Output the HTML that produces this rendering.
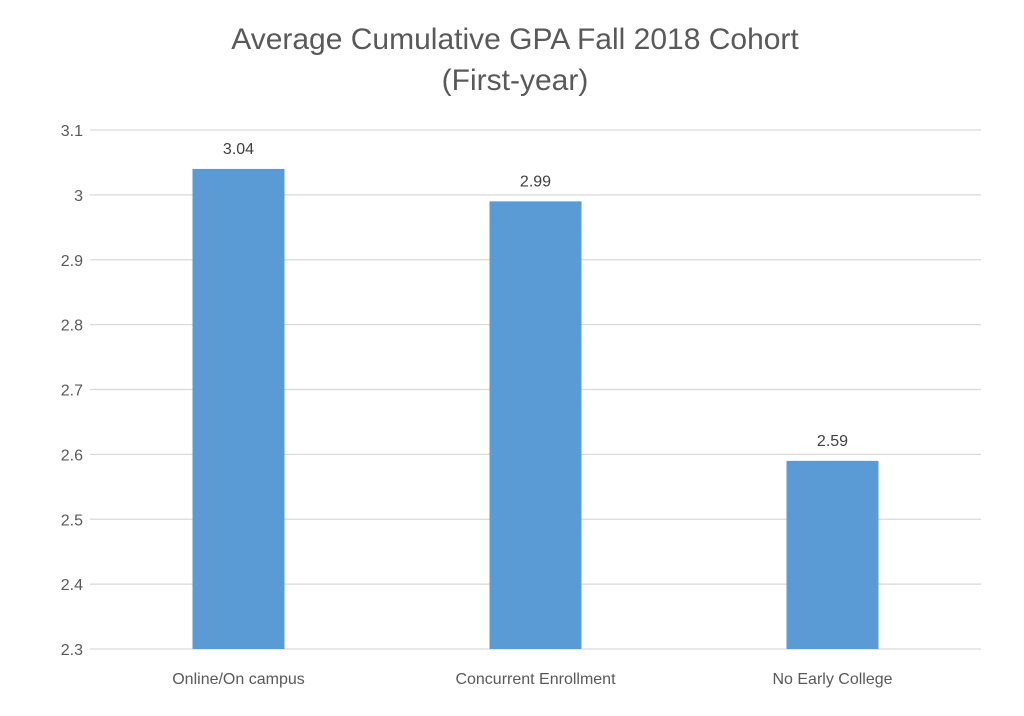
<!DOCTYPE html>
<html><head><meta charset="utf-8"><style>
body{margin:0;background:#fff;}
svg{display:block;font-family:"Liberation Sans",Arial,sans-serif;}
</style></head><body>
<svg id="chart" width="1024" height="716" viewBox="0 0 1024 716">
<rect width="1024" height="716" fill="#fff"/>
<text x="515" y="49" text-anchor="middle" font-size="30" fill="#595959">Average Cumulative GPA Fall 2018 Cohort</text>
<text x="515" y="90" text-anchor="middle" font-size="30" fill="#595959">(First-year)</text>
<g id="grid"></g><g id="bars"></g><g id="labels"></g>
</svg>
<script>
const categories=["Online/On campus","Concurrent Enrollment","No Early College"];
const values=[3.04,2.99,2.59];
const valueLabels=["3.04","2.99","2.59"];
const ticks=[2.3,2.4,2.5,2.6,2.7,2.8,2.9,3.0,3.1];
const tickLabels=["2.3","2.4","2.5","2.6","2.7","2.8","2.9","3","3.1"];
const yMin=2.3,yMax=3.1,plotTop=130,plotBottom=649,plotLeft=90,plotRight=981;
const NS="http://www.w3.org/2000/svg";
function yScale(v){return plotBottom-(v-yMin)/(yMax-yMin)*(plotBottom-plotTop);}
const bandW=(plotRight-plotLeft)/categories.length;
function xc(i){return plotLeft+bandW*(i+0.5);}
function mk(tag,attrs,parent,txt){const e=document.createElementNS(NS,tag);for(const k in attrs)e.setAttribute(k,attrs[k]);if(txt!=null)e.textContent=txt;document.getElementById(parent).appendChild(e);return e;}
ticks.forEach((t,i)=>{
 const l=mk('line',{x1:plotLeft,x2:plotRight,y1:yScale(t),y2:yScale(t),stroke:'#d9d9d9','stroke-width':1.3},'grid');
 
 
 const tx=mk('text',{x:83,y:yScale(t)+6,'text-anchor':'end','font-size':16,fill:'#595959'},'grid',tickLabels[i]);
 
 
});
categories.forEach((c,i)=>{
 const w=92;
 const r=mk('rect',{x:xc(i)-w/2,y:yScale(values[i]),width:w,height:plotBottom-yScale(values[i]),fill:'#5B9BD5'},'bars');
 
 
 const v=mk('text',{x:xc(i),y:yScale(values[i])-15,'text-anchor':'middle','font-size':16,fill:'#404040'},'labels',valueLabels[i]);
 
 
 const cl=mk('text',{x:xc(i),y:684,'text-anchor':'middle','font-size':16,fill:'#595959'},'labels',c);
 
 
});
</script>
</body></html>
